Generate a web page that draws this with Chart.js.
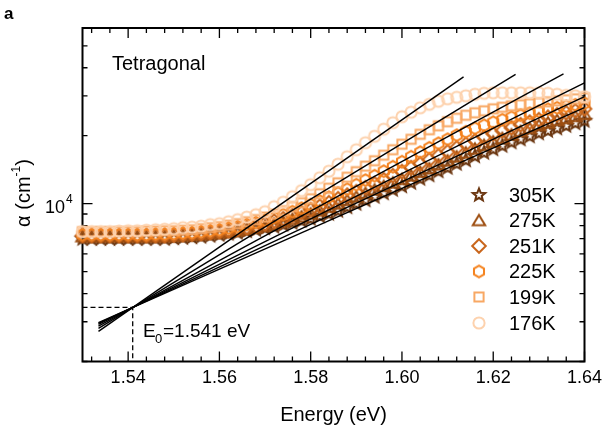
<!DOCTYPE html>
<html>
<head>
<meta charset="utf-8">
<script src="https://cdn.jsdelivr.net/npm/chart.js@4.4.1/dist/chart.umd.min.js"></script>
<style>
  html, body { margin: 0; padding: 0; background: #fff; }
</style>
</head>
<body>
<canvas id="chart" width="615" height="440"></canvas>
<script>
// photon energy (eV)
const energy = [
  1.530, 1.532, 1.534, 1.536, 1.538, 1.540, 1.542, 1.544, 1.546, 1.548,
  1.550, 1.552, 1.554, 1.556, 1.558, 1.560, 1.562, 1.564, 1.566, 1.568,
  1.570, 1.572, 1.574, 1.576, 1.578, 1.580, 1.582, 1.584, 1.586, 1.588,
  1.590, 1.592, 1.594, 1.596, 1.598, 1.600, 1.602, 1.604, 1.606, 1.608,
  1.610, 1.612, 1.614, 1.616, 1.618, 1.620, 1.622, 1.624, 1.626, 1.628,
  1.630, 1.632, 1.634, 1.636, 1.638, 1.640
];

const temps = ['305K', '275K', '251K', '225K', '199K', '176K'];

// absorption coefficient (cm^-1)
const alpha305 = [
  7000, 7000, 7000, 7000, 7000, 7000, 7000, 7000, 7000, 7000,
  7040, 7070, 7110, 7150, 7220, 7290, 7370, 7440, 7560, 7670,
  7790, 7910, 8080, 8240, 8410, 8580, 8810, 9030, 9310, 9650,
  10000, 10360, 10740, 11130, 11530, 11950, 12380, 12900, 13370, 13930,
  14430, 15030, 15580, 16230, 16820, 17430, 18060, 18710, 19290, 19890,
  20510, 21040, 21580, 22140, 22720, 23310
];
const alpha275 = [
  7150, 7150, 7150, 7150, 7150, 7150, 7150, 7150, 7150, 7150,
  7180, 7220, 7260, 7290, 7370, 7440, 7520, 7590, 7710, 7830,
  7950, 8120, 8320, 8540, 8760, 9030, 9310, 9650, 10000, 10360,
  10740, 11130, 11530, 11950, 12380, 12830, 13300, 13790, 14290, 14880,
  15500, 16140, 16820, 17510, 18150, 18810, 19490, 20200, 20940, 21580,
  22250, 22830, 23420, 23900, 24390, 24890
];
const alpha251 = [
  7220, 7220, 7220, 7220, 7220, 7220, 7220, 7220, 7220, 7220,
  7260, 7290, 7330, 7370, 7440, 7520, 7590, 7710, 7830, 7990,
  8160, 8370, 8580, 8850, 9130, 9410, 9750, 10100, 10520, 10910,
  11300, 11770, 12260, 12770, 13300, 13860, 14430, 15030, 15660, 16310,
  16990, 17690, 18340, 19000, 19690, 20400, 21040, 21690, 22370, 22950,
  23540, 24140, 24770, 25280, 25800, 26330
];
const alpha225 = [
  7290, 7290, 7290, 7290, 7290, 7290, 7290, 7290, 7330, 7330,
  7370, 7410, 7440, 7520, 7590, 7670, 7790, 7910, 8080, 8240,
  8450, 8670, 8940, 9220, 9550, 9900, 10260, 10680, 11130, 11590,
  12140, 12710, 13300, 13930, 14580, 15340, 16140, 16900, 17690, 18520,
  19290, 20100, 20820, 21580, 22250, 22950, 23540, 24140, 24640, 25150,
  25660, 26190, 26600, 27010, 27420, 27840
];
const alpha199 = [
  7520, 7520, 7520, 7520, 7520, 7520, 7520, 7560, 7560, 7590,
  7590, 7630, 7670, 7750, 7830, 7910, 8030, 8160, 8320, 8500,
  8720, 8990, 9310, 9700, 10100, 10520, 11070, 11710, 12380, 13100,
  13860, 14660, 15500, 16390, 17340, 18340, 19290, 20300, 21260, 22140,
  23070, 23900, 24640, 25280, 25800, 26330, 26730, 27140, 27420, 27700,
  27990, 28270, 28560, 28860, 29150, 29450
];
const alpha176 = [
  7520, 7520, 7520, 7520, 7560, 7590, 7590, 7630, 7670, 7710,
  7750, 7830, 7870, 7950, 8080, 8160, 8320, 8500, 8720, 8940,
  9220, 9700, 10150, 10740, 11420, 12140, 13030, 13930, 14960, 16140,
  17340, 18620, 19890, 21370, 22830, 24270, 25410, 26600, 27560, 28420,
  29150, 29600, 30060, 30520, 30830, 30990, 30990, 30990, 30990, 30990,
  30990, 30830, 30520, 30210, 30060, 29750
];

// Urbach fit lines (same order as temps)
const fitStartE = [1.5335, 1.5335, 1.5335, 1.5335, 1.5335, 1.5335];
const fitStartA = [2973, 2949, 2917, 2872, 2806, 2720];
const fitEndE = [1.640, 1.640, 1.640, 1.6354, 1.6249, 1.6135];
const fitEndA = [26630, 29780, 34300, 37580, 37360, 36460];

// focus of the fits
const E0 = 1.541;
const alpha0 = 3470;

const xTicks = [1.54, 1.56, 1.58, 1.60, 1.62, 1.64];
const xTickLabels = ['1.54', '1.56', '1.58', '1.60', '1.62', '1.64'];
const yMinorTicks = [2000, 3000, 4000, 5000, 6000, 7000, 8000, 9000, 20000, 30000, 40000, 50000, 60000];
const yMajorTicks = [10000];

const colors = ['#6b3610', '#9e4f12', '#c9661c', '#f5831f', '#f8a864', '#fdd2ae'];
const shapes = ['star', 'triangle', 'diamond', 'hexagon', 'square', 'circle'];
const FONT = '"Liberation Sans", Arial, sans-serif';

function makeMarker(kind, color) {
  const c = document.createElement('canvas');
  c.width = 20; c.height = 20;
  const g = c.getContext('2d');
  g.translate(10, 10);
  g.strokeStyle = color;
  g.lineWidth = 2;
  g.beginPath();
  if (kind === 'star') {
    for (let k = 0; k < 10; k++) {
      const r = k % 2 === 0 ? 6.5 : 2.8;
      const a = -Math.PI / 2 + k * Math.PI / 5;
      k === 0 ? g.moveTo(r * Math.cos(a), r * Math.sin(a)) : g.lineTo(r * Math.cos(a), r * Math.sin(a));
    }
    g.closePath();
  } else if (kind === 'triangle') {
    g.moveTo(0, -5.5); g.lineTo(6.2, 4.8); g.lineTo(-6.2, 4.8); g.closePath();
  } else if (kind === 'diamond') {
    g.moveTo(0, -6.8); g.lineTo(6.8, 0); g.lineTo(0, 6.8); g.lineTo(-6.8, 0); g.closePath();
  } else if (kind === 'hexagon') {
    for (let k = 0; k < 6; k++) {
      const a = -Math.PI / 2 + k * Math.PI / 3;
      k === 0 ? g.moveTo(5.8 * Math.cos(a), 5.8 * Math.sin(a)) : g.lineTo(5.8 * Math.cos(a), 5.8 * Math.sin(a));
    }
    g.closePath();
  } else if (kind === 'square') {
    g.rect(-4.6, -4.6, 9.2, 9.2);
  } else {
    g.arc(0, 0, 5.6, 0, Math.PI * 2);
  }
  g.stroke();
  return c;
}

const markers = shapes.map((s, i) => makeMarker(s, colors[i]));
const series = [alpha305, alpha275, alpha251, alpha225, alpha199, alpha176];

const datasets = [];
temps.forEach((t, i) => {
  datasets.push({
    label: 'fit ' + t,
    data: [{ x: fitStartE[i], y: fitStartA[i] }, { x: fitEndE[i], y: fitEndA[i] }],
    showLine: true,
    borderColor: '#000',
    borderWidth: 1.4,
    pointRadius: 0,
    order: 0,
    clip: false
  });
});
datasets.push({
  label: 'E0',
  data: [{ x: 1.53, y: alpha0 }, { x: E0, y: alpha0 }, { x: E0, y: 2000 }],
  showLine: true,
  borderColor: '#000',
  borderWidth: 1.3,
  borderDash: [5, 3],
  pointRadius: 0,
  order: 0
});
temps.forEach((t, i) => {
  datasets.push({
    label: t,
    data: energy.map((e, j) => ({ x: e, y: series[i][j] })),
    showLine: false,
    pointStyle: markers[i],
    pointRadius: 6,
    order: 6 - i,
    clip: false
  });
});

const decor = {
  id: 'decor',
  beforeDatasetsDraw(chart) {
    const { ctx, chartArea: a, scales: { x, y } } = chart;
    ctx.save();
    ctx.strokeStyle = '#000';
    ctx.lineWidth = 1.3;
    ctx.beginPath();
    const vtick = (v, len) => {
      const p = x.getPixelForValue(v);
      ctx.moveTo(p, a.bottom); ctx.lineTo(p, a.bottom - len);
      ctx.moveTo(p, a.top); ctx.lineTo(p, a.top + len);
    };
    const htick = (v, len) => {
      const p = y.getPixelForValue(v);
      ctx.moveTo(a.left, p); ctx.lineTo(a.left + len, p);
      ctx.moveTo(a.right, p); ctx.lineTo(a.right - len, p);
    };
    for (let k = 0; k < 28; k++) {
      const v = 1.532 + 0.004 * k;
      const major = xTicks.some(t => Math.abs(t - v) < 1e-6);
      vtick(v, major ? 10 : 5);
    }
    yMinorTicks.forEach(v => htick(v, 5));
    yMajorTicks.forEach(v => htick(v, 10));
    ctx.stroke();
    ctx.lineWidth = 2;
    ctx.strokeRect(a.left, a.top, a.right - a.left, a.bottom - a.top);
    ctx.restore();
  },
  afterDraw(chart) {
    const { ctx, chartArea: a, scales: { x, y } } = chart;
    ctx.save();
    ctx.fillStyle = '#000';

    // panel letter
    ctx.font = 'bold 17px ' + FONT;
    ctx.textAlign = 'left';
    ctx.textBaseline = 'alphabetic';
    ctx.fillText('a', 4, 19);

    ctx.font = '20px ' + FONT;
    ctx.fillText('Tetragonal', 112, 70);

    // x tick labels
    ctx.font = '18px ' + FONT;
    ctx.textAlign = 'center';
    ctx.textBaseline = 'middle';
    xTicks.forEach((v, i) => ctx.fillText(xTickLabels[i], x.getPixelForValue(v), 378));

    // x title
    ctx.font = '20px ' + FONT;
    ctx.fillText('Energy (eV)', (a.left + a.right) / 2, 415);

    // y tick label 10^4
    const py = y.getPixelForValue(yMajorTicks[0]);
    ctx.textAlign = 'right';
    ctx.textBaseline = 'alphabetic';
    ctx.font = '18px ' + FONT;
    ctx.fillText('10', 65, py + 9);
    ctx.textAlign = 'left';
    ctx.font = '12px ' + FONT;
    ctx.fillText('4', 66, py - 1);

    // y title
    ctx.save();
    ctx.translate(23, 193);
    ctx.rotate(-Math.PI / 2);
    const big = '20px ' + FONT, small = '12px ' + FONT;
    ctx.font = big; const w1 = ctx.measureText('\u03b1 (cm').width; const w3 = ctx.measureText(')').width;
    ctx.font = small; const w2 = ctx.measureText('-1').width;
    let sx = -(w1 + w2 + w3) / 2;
    ctx.font = big; ctx.fillText('\u03b1 (cm', sx, 7); sx += w1;
    ctx.font = small; ctx.fillText('-1', sx, -3); sx += w2;
    ctx.font = big; ctx.fillText(')', sx, 7);
    ctx.restore();

    // E0 annotation
    ctx.font = '19px ' + FONT;
    ctx.fillText('E', 143, 337);
    ctx.font = '13px ' + FONT;
    ctx.fillText('0', 155, 343);
    ctx.font = '19px ' + FONT;
    ctx.fillText('=1.541 eV', 163, 337);

    // legend
    const rows = [195, 220.5, 246, 271.5, 297, 323];
    ctx.font = '20px ' + FONT;
    ctx.textBaseline = 'middle';
    temps.forEach((t, i) => {
      const m = markers[i];
      ctx.drawImage(m, 479 - m.width / 2, rows[i] - m.height / 2);
      ctx.fillText(t, 509, rows[i] + 1);
    });
    ctx.restore();
  }
};

new Chart(document.getElementById('chart').getContext('2d'), {
  type: 'scatter',
  data: { datasets },
  options: {
    responsive: false,
    animation: false,
    devicePixelRatio: 1,
    layout: { padding: { left: 82.5, right: 30.5, top: 28, bottom: 78.5 } },
    plugins: { legend: { display: false }, tooltip: { enabled: false } },
    scales: {
      x: { type: 'linear', min: 1.53, max: 1.64, display: false },
      y: { type: 'logarithmic', min: 2000, max: 60000, display: false }
    }
  },
  plugins: [decor]
});
</script>
</body>
</html>
